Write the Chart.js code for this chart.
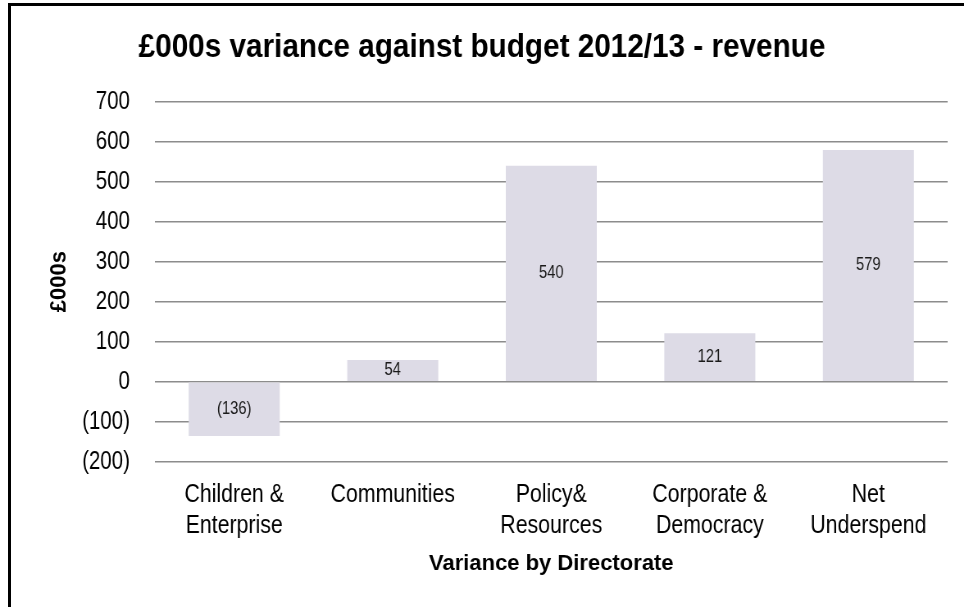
<!DOCTYPE html>
<html>
<head>
<meta charset="utf-8">
<title>£000s variance against budget 2012/13 - revenue</title>
<script src="https://cdn.jsdelivr.net/npm/chart.js@4/dist/chart.umd.min.js"></script>
<style>
  html, body { margin: 0; padding: 0; background: #ffffff; }
  #wrap { position: relative; width: 964px; height: 607px; overflow: hidden; }
  #frame {
    position: absolute; left: 8px; top: 3px; width: 1000px; height: 700px;
    border-top: 3px solid #000; border-left: 3px solid #000; box-sizing: border-box;
  }
  #chart { position: absolute; left: 0; top: 0; width: 964px; height: 607px; }
</style>
</head>
<body>
<div id="wrap">
  <div id="frame"></div>
  <canvas id="chart" width="1176" height="607" style="width:964px;height:607px"></canvas>
</div>
<script>
// Directorates and their revenue variance against budget (£000s)
const categories = [
  ['Children &', 'Enterprise'],
  ['Communities'],
  ['Policy&', 'Resources'],
  ['Corporate &', 'Democracy'],
  ['Net', 'Underspend']
];
const variance = [-136, 54, 540, 121, 579];

// Value axis range
const yMin = -200;
const yMax = 700;
const yStep = 100;

const chartTitle = '£000s variance against budget 2012/13 - revenue';
const yAxisTitle = '£000s';
const xAxisTitle = 'Variance by Directorate';

// The canvas is drawn wider than it is shown, so regular lettering
// comes out condensed (narrow face); bold headings are re-widened.
const SQUEEZE = 964 / 1176;
const FONT = "'Liberation Sans', Arial, sans-serif";

// Accounting style: negatives in brackets
function fmt(v) {
  return v < 0 ? '(' + Math.abs(v) + ')' : String(v);
}

// Writes each bar's value at the middle of the bar
const barValueLabels = {
  id: 'barValueLabels',
  afterDatasetsDraw(chart) {
    const ctx = chart.ctx;
    const meta = chart.getDatasetMeta(0);
    const data = chart.data.datasets[0].data;
    ctx.save();
    ctx.font = '18px ' + FONT;
    ctx.fillStyle = '#1a1a1a';
    ctx.textAlign = 'center';
    ctx.textBaseline = 'middle';
    meta.data.forEach((bar, i) => {
      const p = bar.getProps(['x', 'y', 'base'], true);
      ctx.fillText(fmt(data[i]), p.x, (p.y + p.base) / 2);
    });
    ctx.restore();
  }
};

// Chart title and axis titles in bold
const headings = {
  id: 'headings',
  afterDraw(chart) {
    const ctx = chart.ctx;
    const area = chart.chartArea;
    const midX = (area.left + area.right) / 2;
    const midY = (area.top + area.bottom) / 2;

    function put(text, x, y, size, widen, rotate) {
      ctx.save();
      ctx.translate(x, y);
      ctx.scale(widen / SQUEEZE, 1);
      if (rotate) ctx.rotate(-Math.PI / 2);
      ctx.font = 'bold ' + size + 'px ' + FONT;
      ctx.fillStyle = '#000000';
      ctx.textAlign = 'center';
      ctx.textBaseline = rotate ? 'middle' : 'alphabetic';
      ctx.fillText(text, 0, 0);
      ctx.restore();
    }

    put(chartTitle, chart.width / 2, 56.5, 33, 0.9, false);
    put(xAxisTitle, midX, 569.5, 22, 1.0, false);
    put(yAxisTitle, 59.5 / SQUEEZE, midY, 22, 1.0, true);
  }
};

new Chart(document.getElementById('chart'), {
  type: 'bar',
  data: {
    labels: categories,
    datasets: [{
      data: variance,
      backgroundColor: '#dddbe6',
      borderWidth: 0,
      categoryPercentage: 1,
      barPercentage: 0.574
    }]
  },
  options: {
    responsive: false,
    animation: false,
    devicePixelRatio: 1,
    layout: { padding: { left: 0, right: 20, top: 101.7, bottom: 0 } },
    plugins: {
      legend: { display: false },
      tooltip: { enabled: false },
      title: { display: false }
    },
    scales: {
      x: {
        grid: { display: false, drawTicks: false },
        border: { display: false },
        ticks: {
          color: '#000000',
          font: { family: FONT, size: 26, lineHeight: 1.18 },
          padding: 18,
          maxRotation: 0,
          autoSkip: false
        },
        afterFit(scale) { scale.height = 145.3; }
      },
      y: {
        min: yMin,
        max: yMax,
        grid: { color: '#8c8c8c', lineWidth: 1.6, drawTicks: false },
        border: { display: false },
        ticks: {
          stepSize: yStep,
          color: '#000000',
          font: { family: FONT, size: 25 },
          padding: 30.5,
          callback: (v) => fmt(v)
        },
        afterFit(scale) { scale.width = 189; }
      }
    }
  },
  plugins: [barValueLabels, headings]
});
</script>
</body>
</html>
